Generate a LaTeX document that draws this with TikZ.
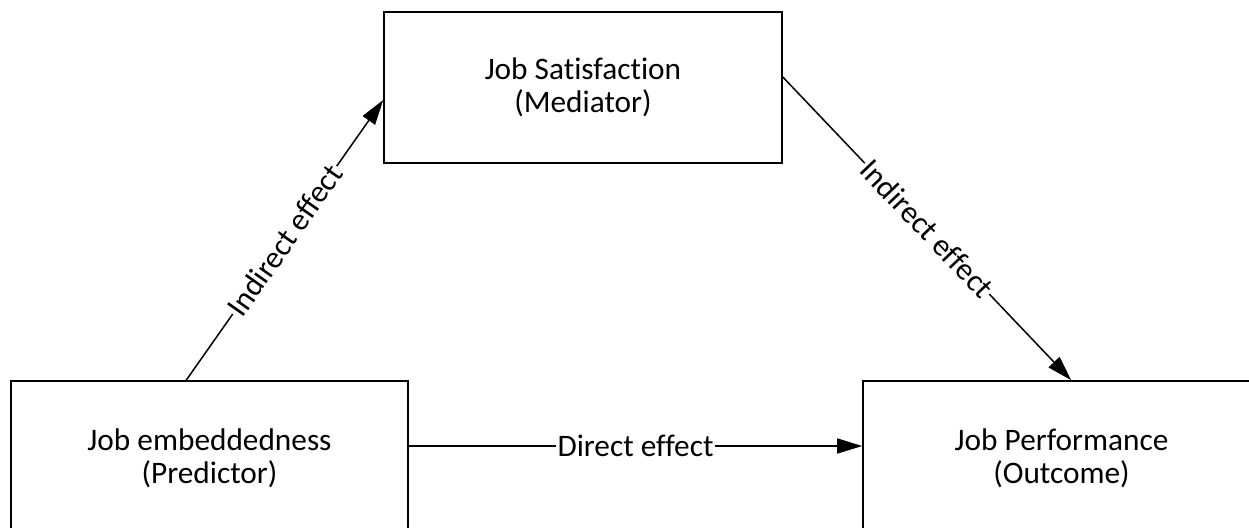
\documentclass[tikz,border=0pt]{standalone}
\usepackage{fontspec}
\setmainfont[Ligatures={NoCommon}]{Carlito}
\usetikzlibrary{arrows.meta,calc}
\begin{document}
\begin{tikzpicture}[x=1pt,y=-1pt,
  box/.style={draw,line width=1.6pt,align=center,inner sep=0pt,
    font=\fontsize{31.3}{33}\selectfont},
  link/.style={line width=1.5pt,-{Triangle[length=25pt,width=15pt]}},
  tag/.style={fill=white,inner sep=1.5pt,font=\fontsize{31.3}{33}\selectfont}]
  \useasboundingbox (0,0) rectangle (1249,527);
  \clip (0,0) rectangle (1249,527);
  % the three variables of the mediation model
  \node[box,minimum width=398pt,minimum height=151pt] (sat) at (583,87.5)
    {Job Satisfaction\\(Mediator)};
  \node[box,minimum width=397pt,minimum height=154pt] (emb) at (209.5,458)
    {Job embeddedness\\(Predictor)};
  \node[box,minimum width=397pt,minimum height=154pt] (perf) at (1061.5,458)
    {Job Performance\\(Outcome)};
  % paths between them
  \coordinate (a1) at ($(emb.north west)+(176,0)$);
  \coordinate (a2) at ($(sat.west)+(0,12.5)$);
  \coordinate (b1) at ($(sat.east)+(0,-10.5)$);
  \coordinate (b2) at ($(perf.north west)+(209,0)$);
  \coordinate (c1) at ($(emb.east)+(0,-12)$);
  \coordinate (c2) at ($(perf.west)+(0,-12)$);
  \draw[link] (a1) -- node[tag,sloped] {Indirect effect} (a2);
  \draw[link] (b1) -- node[tag,sloped] {Indirect effect} (b2);
  \draw[link] (c1) -- node[tag] {Direct effect} (c2);
\end{tikzpicture}
\end{document}
